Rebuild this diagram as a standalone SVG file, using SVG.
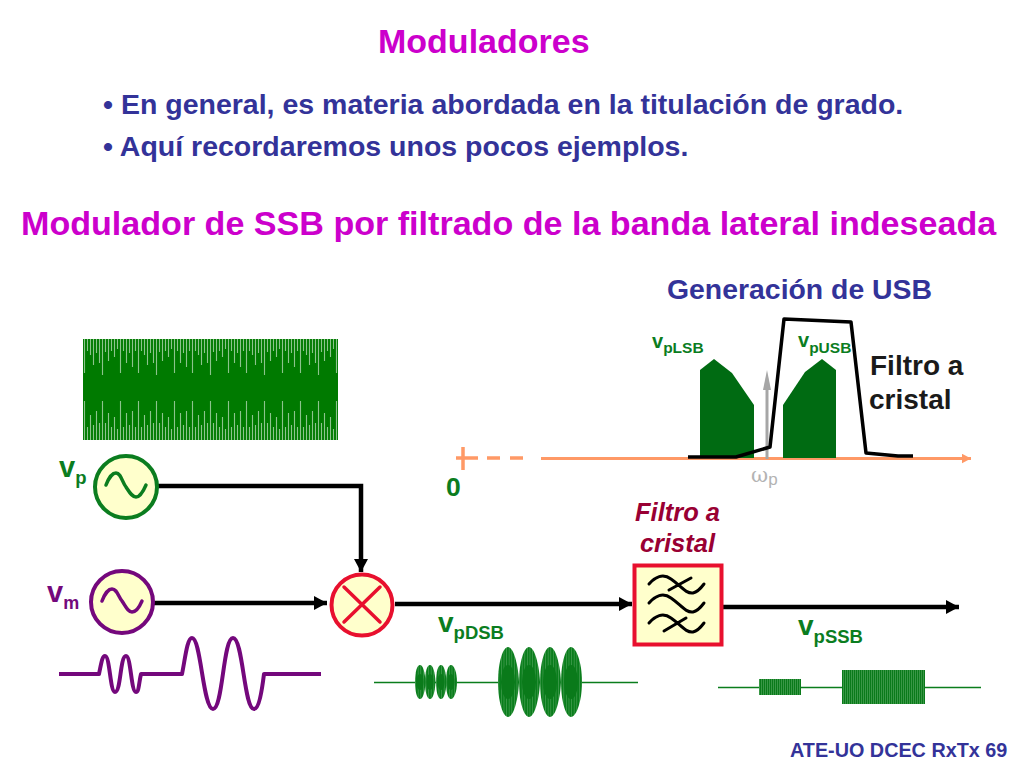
<svg xmlns="http://www.w3.org/2000/svg" width="1024" height="768" viewBox="0 0 1024 768">
<style>
text{font-family:"Liberation Sans",Arial,sans-serif;font-weight:bold}
.mag{fill:#cc00cc}.blue{fill:#333399}.grn{fill:#0b7d1f}.pur{fill:#74087c}.blk{fill:#1a1a1a}
.wire{fill:none;stroke:#000;stroke-width:4.5}
.src{fill:#ffffcc;stroke-width:4}
.sine{fill:none;stroke-width:3.5;stroke-linecap:round}
.glyph{fill:none;stroke:#000;stroke-width:3;stroke-linecap:round}
.trace{fill:url(#stripes)}
.core{fill:#0a7a1a}
.ssb{fill:url(#dense)}
.band{fill:#006b12}
</style>
<defs>
<marker id="ah" markerUnits="userSpaceOnUse" markerWidth="14" markerHeight="14" refX="13" refY="7" orient="auto"><path d="M0,0L13,7L0,14Z" fill="#000"/></marker>
<marker id="ahO" markerUnits="userSpaceOnUse" markerWidth="10" markerHeight="10" refX="9.500" refY="5" orient="auto"><path d="M0,0L9.500,5L0,10Z" fill="#ff9966"/></marker>
<pattern id="carrier" patternUnits="userSpaceOnUse" x="83" y="339" width="54" height="101">
<rect width="54" height="101" fill="#007a00"/>
<path d="M1.500,0V34M4.500,0V12M7.500,0V16M10.500,0V26M13.500,0V14M16.500,0V24M19.500,0V36M22.500,0V13M25.500,0V22M28.500,0V12M31.500,0V18M34.500,0V10M37.500,0V34M40.500,0V12M43.500,0V24M46.500,0V14M49.500,0V28M52.500,0V12M1.500,101V62M4.500,101V88M7.500,101V76M10.500,101V86M13.500,101V72M16.500,101V84M19.500,101V62M22.500,101V84M25.500,101V74M28.500,101V88M31.500,101V78M34.500,101V90M37.500,101V62M40.500,101V88M43.500,101V74M46.500,101V86M49.500,101V72M52.500,101V88" stroke="#fff" stroke-opacity=".55" stroke-width="1.100" fill="none"/>
</pattern>
<pattern id="stripes" patternUnits="userSpaceOnUse" width="2.600" height="10">
<rect width="2.600" height="10" fill="#0a7d1c"/><rect x="1.800" width=".8" height="10" fill="#3f9a4b"/>
</pattern>
<pattern id="dense" patternUnits="userSpaceOnUse" width="2" height="10">
<rect width="2" height="10" fill="#0a7a1a"/><rect x="1.300" width=".7" height="10" fill="#4da358"/>
</pattern>
</defs>

<g id="titles">
<text x="378" y="53" font-size="34" class="mag">Moduladores</text>
<text x="103" y="113.500" font-size="28.500" class="blue">• En general, es materia abordada en la titulación de grado.</text>
<text x="103" y="155.500" font-size="28.500" class="blue">• Aquí recordaremos unos pocos ejemplos.</text>
<text x="21" y="235" font-size="34.100" class="mag">Modulador de SSB por filtrado de la banda lateral indeseada</text>
<text x="667" y="298.500" font-size="28.400" class="blue">Generación de USB</text>
<text x="790" y="757" font-size="19.800" class="blue">ATE-UO DCEC RxTx 69</text>
</g>

<g id="carrier-wave"><rect x="83" y="339" width="255" height="101" fill="url(#carrier)"/></g>

<g id="connectors">
<path class="wire" d="M157,486H361V572" marker-end="url(#ah)"/>
<path class="wire" d="M154,603H327" marker-end="url(#ah)"/>
<path class="wire" d="M395,604H632" marker-end="url(#ah)"/>
<path class="wire" d="M723,607H959" marker-end="url(#ah)"/>
</g>

<g id="source-vp">
<circle class="src" cx="126" cy="487" r="31" stroke="#0b7d1f"/>
<path class="sine" stroke="#0b7d1f" d="M106,485C109,477 113,473 116,473C121,473 122,482 126,487C130,493 132,497 136,497C140,497 143,492 146,485"/>
<text x="59" y="477" class="grn" font-size="29">v<tspan font-size="18.500" dy="7">p</tspan></text>
</g>
<g id="source-vm">
<circle class="src" cx="122" cy="602" r="31" stroke="#74087c"/>
<path class="sine" stroke="#74087c" d="M102,601C105,593 109,589 112,589C117,589 118,596 122,601C126,607 128,612 132,612C136,612 139,608 142,601"/>
<text x="47" y="602" class="pur" font-size="29">v<tspan font-size="18" dy="7">m</tspan></text>
</g>
<g id="mixer">
<circle cx="362" cy="605" r="30.500" fill="#ffffcc" stroke="#e8102e" stroke-width="4"/>
<path d="M344,587L380,622M380,587L344,622" stroke="#e8102e" stroke-width="3.500" fill="none" stroke-linecap="round"/>
</g>
<g id="filter">
<rect x="634.500" y="565.500" width="87" height="79" fill="#ffffcc" stroke="#e8102e" stroke-width="4"/>
<path class="glyph" d="M649,584C655,577 663,573 671,579C681,586 686,594 693,593C698,592 701,588 704,584M669,590L691,578"/>
<path class="glyph" d="M649,603C655,596 663,592 671,598C681,605 686,613 693,612C698,611 701,607 704,603"/>
<path class="glyph" d="M649,623C655,616 663,612 671,618C681,625 686,633 693,632C698,631 701,627 704,623M664,631L686,618"/>
<text x="677.500" y="521" text-anchor="middle" font-size="25.500" font-style="italic" fill="#990033">Filtro a</text>
<text x="677.500" y="552" text-anchor="middle" font-size="25.500" font-style="italic" fill="#990033">cristal</text>
</g>

<g id="modulating-wave">
<path fill="none" stroke="#74087c" stroke-width="4" stroke-linejoin="round" d="M59,674H99C101,665 102,656 105,656C110,656 110,692 115,692C121,692 120,656 126,656C131,656 131,692 136,692C139,692 139,682 141,674H182C185,660 187,638 192,638C201,638 203,709 213,709C223,709 223,638 233,638C243,638 244,709 254,709C259,709 262,690 264,674H321"/>
</g>

<g id="dsb-wave">
<path d="M374,682.500H638" stroke="#0a7d1c" stroke-width="1.500" fill="none"/>
<path class="trace" d="M415,682C415,672 417,665 420,665C423,665 425,672 425.500,682C425,692 423,699 420,699C417,699 415,692 415,682Z"/>
<path class="trace" d="M425,682C425,672 427,665 430,665C433,665 435,672 435.500,682C435,692 433,699 430,699C427,699 425,692 425,682Z"/>
<path class="trace" d="M436,682C436,672 438,665 441,665C444,665 446,672 446.500,682C446,692 444,699 441,699C438,699 436,692 436,682Z"/>
<path class="trace" d="M446,682C446,672 448,665 451,665C454,665 457,672 457,682C457,692 454,699 451,699C448,699 446,692 446,682Z"/>
<path class="trace" d="M498,682C498,662 503,647 508,647C513,647 518,662 519,682C518,702 513,717 508,717C503,717 498,702 498,682Z"/>
<path class="trace" d="M519,682C519,662 524,647 529,647C534,647 539,662 540,682C539,702 534,717 529,717C524,717 519,702 519,682Z"/>
<path class="trace" d="M540,682C540,662 545,647 550,647C555,647 560,662 561,682C560,702 555,717 550,717C545,717 540,702 540,682Z"/>
<path class="trace" d="M561,682C561,662 566,647 571,647C576,647 582,662 582,682C582,702 576,717 571,717C566,717 561,702 561,682Z"/>
<g class="core">
<ellipse cx="420" cy="682" rx="3.500" ry="8"/><ellipse cx="430" cy="682" rx="3.500" ry="8"/><ellipse cx="441" cy="682" rx="3.500" ry="8"/><ellipse cx="451" cy="682" rx="3.500" ry="8"/>
<ellipse cx="508" cy="682" rx="7" ry="17"/><ellipse cx="529" cy="682" rx="7" ry="17"/><ellipse cx="550" cy="682" rx="7" ry="17"/><ellipse cx="571" cy="682" rx="7" ry="17"/>
</g>
<text x="438" y="632" class="grn" font-size="28">v<tspan font-size="18.500" dy="7">pDSB</tspan></text>
</g>

<g id="ssb-wave">
<path d="M718,687.500H981" stroke="#0a7d1c" stroke-width="1.500" fill="none"/>
<rect class="ssb" x="759" y="679" width="42" height="16"/>
<rect class="ssb" x="842" y="670" width="83" height="34"/>
<text x="798" y="635" class="grn" font-size="28">v<tspan font-size="18.500" dy="8">pSSB</tspan></text>
</g>

<g id="spectrum">
<path d="M463,447V470M456,458H478M487,458H500M510,458H523" stroke="#ff9966" stroke-width="3.500" fill="none"/>
<path d="M541,458.500H971" stroke="#ff9966" stroke-width="3" fill="none" marker-end="url(#ahO)"/>
<polygon class="band" points="700,370 714,359 732,373 754,405 754,458 700,458"/>
<polygon class="band" points="783,458 783,405 805,372 822,359 836,370 836,458"/>
<path d="M767,459V385" stroke="#a6a6a6" stroke-width="3" fill="none"/>
<path d="M767,370L771,390H763Z" fill="#a6a6a6"/>
<path d="M688,457H736L770,447L784,319L851,322L866,453L898,456H913" fill="none" stroke="#000" stroke-width="3.500" stroke-linejoin="round"/>
<text x="652" y="348" class="grn" font-size="20">v<tspan font-size="15.500" dy="5">pLSB</tspan></text>
<text x="798" y="347" class="grn" font-size="20">v<tspan font-size="15.500" dy="6">pUSB</tspan></text>
<text x="870" y="375" class="blk" font-size="28">Filtro a</text>
<text x="869" y="409" class="blk" font-size="28">cristal</text>
<text x="446" y="496" class="grn" font-size="26.500">0</text>
<text x="751" y="482" fill="#b3b3b3" font-size="21" style="font-family:'DejaVu Serif',serif;font-weight:normal">ω<tspan font-size="17" dy="3" style="font-family:'Liberation Sans',sans-serif;font-weight:normal">p</tspan></text>
</g>
</svg>
